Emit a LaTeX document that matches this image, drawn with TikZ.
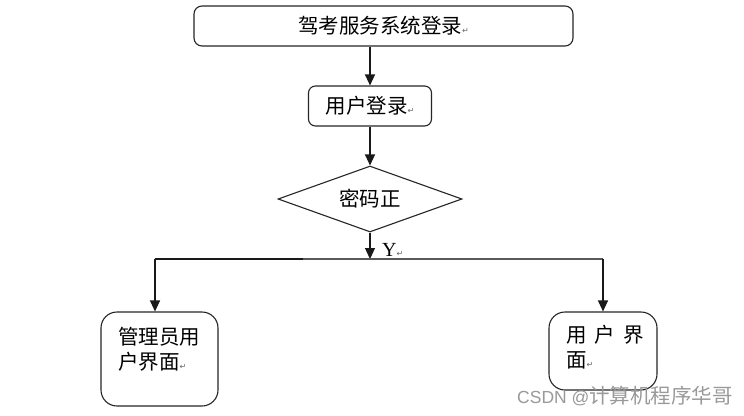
\documentclass[tikz,border=0pt]{standalone}
\usepackage{fontspec}
\setmainfont{Liberation Serif}
\newfontfamily\cjk{Noto Sans CJK SC}
\newfontfamily\dv{DejaVu Sans}
\newfontfamily\wmsans{Liberation Sans}
\usetikzlibrary{shapes.geometric,arrows.meta}
\newcommand{\pmark}{{\dv\fontsize{8}{8}\selectfont\textcolor{black!60}{↵}}}
\tikzset{
  line/.style={draw=black!90, line width=1.1pt},
  arr/.style={line, -{Triangle[length=11pt,width=10pt]}},
  box/.style={draw=black!85, line width=1.1pt, rectangle, inner sep=0pt},
  txt/.style={font=\cjk\fontsize{20.5}{25}\selectfont, inner sep=0pt},
}
\begin{document}
\begin{tikzpicture}[x=1pt,y=-1pt]
\useasboundingbox[fill=white] (0,0) rectangle (744,415);

\node[box, rounded corners=8pt, minimum width=379pt, minimum height=40pt, txt] (top) at (383.5,26) {驾考服务系统登录\pmark};
\node[box, rounded corners=7pt, minimum width=123pt, minimum height=40pt, txt] (login) at (370,106) {用户登录\pmark};
\node[diamond, draw=black!85, line width=1.1pt, inner sep=0pt, shape aspect=2.8, minimum width=184pt, minimum height=66pt, txt] (pw) at (370,199) {密码正};

\node[box, rounded corners=16pt, minimum width=117pt, minimum height=94pt] (admin) at (159.5,359) {};
\node[txt, align=left, anchor=north west] (admintxt) at (118,327) {管理员用\\户界面\pmark};
\node[box, rounded corners=16pt, minimum width=108pt, minimum height=78pt] (user) at (603,351) {};
\node[txt, align=left, anchor=north west] (usertxt) at (566,325) {用\hspace{8pt}户\hspace{8pt}界\\面\pmark};

\coordinate (j) at (370,259);
\coordinate (jl) at (155,259);
\coordinate (jr) at (603,259);
\coordinate (jg) at (303,259);

\draw[arr] (top.south -| login.north) -- (login.north);
\draw[arr] (login.south) -- (pw.north);
\draw[arr] (pw.south) -- (j);
\node[font=\fontsize{20}{20}\selectfont, inner sep=0pt, anchor=west] (ylab) at (382,250) {Y\pmark};
\draw[line] (jl) -- (jg);
\draw[line, draw=black!65] (jg) -- (jr);
\draw[arr] (jl) -- (jl |- admin.north);
\draw[arr] (jr) -- (user.north);

\node[inner sep=0pt, anchor=west, text=black!40] (wm) at (517,396) {{\wmsans\fontsize{17.5}{18}\selectfont CSDN @}{\cjk\fontsize{20.5}{22}\selectfont 计算机程序华哥}};
\end{tikzpicture}
\end{document}
